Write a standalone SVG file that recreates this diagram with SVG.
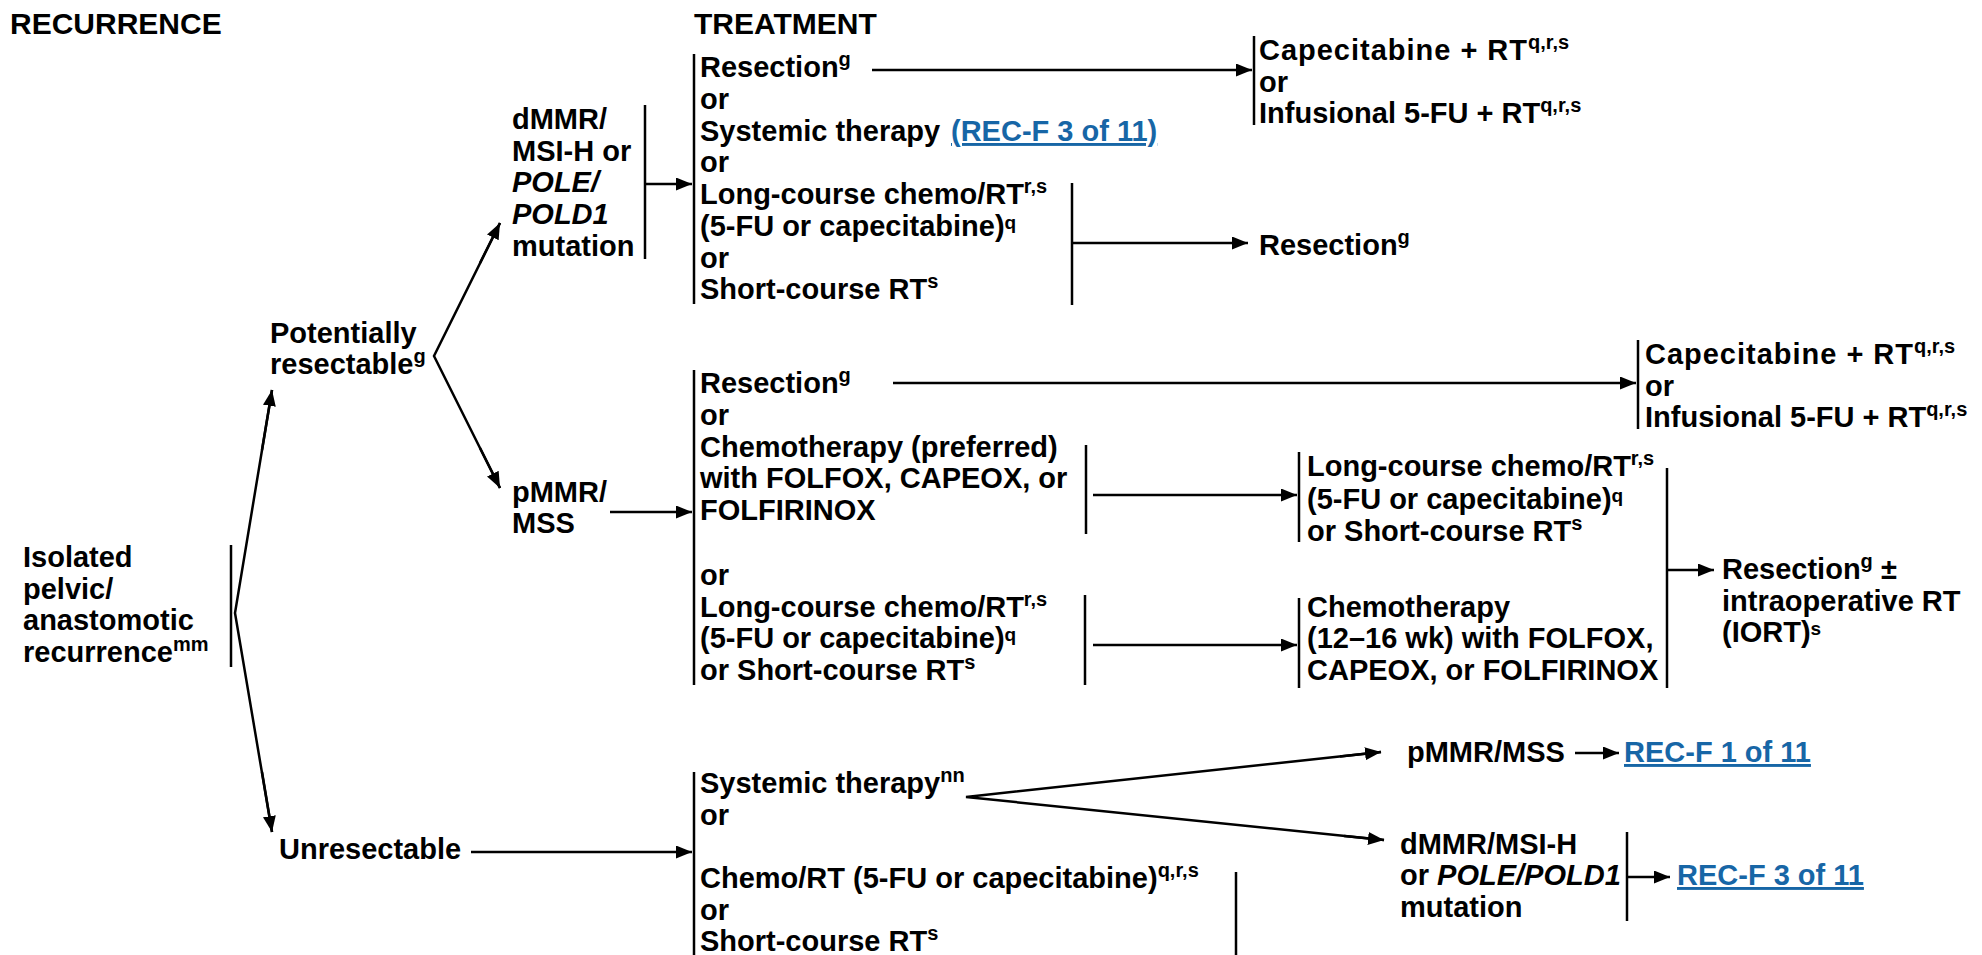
<svg xmlns="http://www.w3.org/2000/svg" width="1982" height="955" viewBox="0 0 1982 955">
<style>
text { font-family: "Liberation Sans", Arial, sans-serif; font-weight: bold; font-size: 29px; fill: #000; }
.hdr { font-size: 30px; }
.sup { font-size: 20px; }
.sup2 { font-size: 19px; }
.it { font-style: italic; }
.link { fill: #1766a6; text-decoration: underline; }
.br { stroke: #000; stroke-width: 2.5; fill: none; }
.cn { stroke: #000; stroke-width: 2.5; fill: none; marker-end: url(#ah); }
.ln { stroke: #000; stroke-width: 2.5; fill: none; }
</style>
<defs>
<marker id="ah" markerUnits="userSpaceOnUse" markerWidth="17" markerHeight="13" refX="16" refY="6.5" orient="auto">
<path d="M0,0 L16,6.5 L0,13 Z" fill="#000"/>
</marker>
</defs>
<rect width="1982" height="955" fill="#fff"/>

<g id="headers">
<text class="hdr" x="10" y="34">RECURRENCE</text>
<text class="hdr" x="694" y="34">TREATMENT</text>
</g>

<g id="n-isolated">
<text><tspan x="23" y="567">Isolated</tspan><tspan x="23" y="599">pelvic/</tspan><tspan x="23" y="630">anastomotic</tspan><tspan x="23" y="662">recurrence<tspan class="sup" dy="-11">mm</tspan></tspan></text>
<line class="br" x1="231" y1="545" x2="231" y2="667"/>
</g>

<g id="n-potentially">
<text><tspan x="270" y="343">Potentially</tspan><tspan x="270" y="374">resectable<tspan class="sup" dy="-11">g</tspan></tspan></text>
</g>

<g id="n-unresectable">
<text x="279" y="859">Unresectable</text>
</g>

<g id="n-dmmr">
<text><tspan x="512" y="129">dMMR/</tspan><tspan x="512" y="161">MSI-H or</tspan><tspan x="512" y="192" class="it">POLE/</tspan><tspan x="512" y="224" class="it">POLD1</tspan><tspan x="512" y="256">mutation</tspan></text>
<line class="br" x1="645" y1="105" x2="645" y2="259"/>
</g>

<g id="n-pmmr">
<text><tspan x="512" y="502">pMMR/</tspan><tspan x="512" y="533">MSS</tspan></text>
</g>

<g id="n-tx-dmmr">
<line class="br" x1="694" y1="54" x2="694" y2="304"/>
<text><tspan x="700" y="77">Resection<tspan class="sup" dy="-11">g</tspan></tspan><tspan x="700" y="109">or</tspan><tspan x="700" y="141">Systemic therapy</tspan><tspan x="700" y="172">or</tspan><tspan x="700" y="204">Long-course chemo/RT<tspan class="sup" dy="-11">r,s</tspan></tspan><tspan x="700" y="236">(5-FU or capecitabine)<tspan class="sup2" dy="-7.5">q</tspan></tspan><tspan x="700" y="268">or</tspan><tspan x="700" y="299">Short-course RT<tspan class="sup" dy="-11">s</tspan></tspan></text>
<text class="link" x="951" y="141">(REC-F 3 of 11)</text>
<line class="br" x1="1072" y1="183" x2="1072" y2="305"/>
</g>

<g id="n-cape1">
<line class="br" x1="1254" y1="36" x2="1254" y2="125"/>
<text><tspan x="1259" y="60" textLength="268" lengthAdjust="spacing">Capecitabine + RT</tspan><tspan class="sup" dy="-11">q,r,s</tspan><tspan x="1259" y="92">or</tspan><tspan x="1259" y="123">Infusional 5-FU + RT<tspan class="sup" dy="-11">q,r,s</tspan></tspan></text>
</g>

<g id="n-resection1">
<text x="1259" y="255">Resection<tspan class="sup" dy="-11">g</tspan></text>
</g>

<g id="n-tx-pmmr">
<line class="br" x1="694" y1="370" x2="694" y2="685"/>
<text><tspan x="700" y="393">Resection<tspan class="sup" dy="-11">g</tspan></tspan><tspan x="700" y="425">or</tspan><tspan x="700" y="457">Chemotherapy (preferred)</tspan><tspan x="700" y="488">with FOLFOX, CAPEOX, or</tspan><tspan x="700" y="520">FOLFIRINOX</tspan><tspan x="700" y="585">or</tspan><tspan x="700" y="617">Long-course chemo/RT<tspan class="sup" dy="-11">r,s</tspan></tspan><tspan x="700" y="648">(5-FU or capecitabine)<tspan class="sup2" dy="-7.5">q</tspan></tspan><tspan x="700" y="680">or Short-course RT<tspan class="sup" dy="-11">s</tspan></tspan></text>
<line class="br" x1="1086" y1="445" x2="1086" y2="534"/>
<line class="br" x1="1085" y1="595" x2="1085" y2="685"/>
</g>

<g id="n-cape2">
<line class="br" x1="1638" y1="340" x2="1638" y2="429"/>
<text><tspan x="1645" y="364" textLength="268" lengthAdjust="spacing">Capecitabine + RT</tspan><tspan class="sup" dy="-11">q,r,s</tspan><tspan x="1645" y="396">or</tspan><tspan x="1645" y="427">Infusional 5-FU + RT<tspan class="sup" dy="-11">q,r,s</tspan></tspan></text>
</g>

<g id="n-longcourse">
<line class="br" x1="1299" y1="452" x2="1299" y2="542"/>
<text><tspan x="1307" y="476">Long-course chemo/RT<tspan class="sup" dy="-11">r,s</tspan></tspan><tspan x="1307" y="509">(5-FU or capecitabine)<tspan class="sup2" dy="-7.5">q</tspan></tspan><tspan x="1307" y="541">or Short-course RT<tspan class="sup" dy="-11">s</tspan></tspan></text>
</g>

<g id="n-chemo1216">
<line class="br" x1="1299" y1="598" x2="1299" y2="688"/>
<text><tspan x="1307" y="617">Chemotherapy</tspan><tspan x="1307" y="648">(12–16 wk) with FOLFOX,</tspan><tspan x="1307" y="680">CAPEOX, or FOLFIRINOX</tspan></text>
<line class="br" x1="1667" y1="468" x2="1667" y2="688"/>
</g>

<g id="n-resection-iort">
<text><tspan x="1722" y="579">Resection<tspan class="sup" dy="-11">g</tspan><tspan dy="11"> ±</tspan></tspan><tspan x="1722" y="611">intraoperative RT</tspan><tspan x="1722" y="642">(IORT)<tspan class="sup2" dy="-7.5">s</tspan></tspan></text>
</g>

<g id="n-tx-unres">
<line class="br" x1="694" y1="772" x2="694" y2="955"/>
<text><tspan x="700" y="793">Systemic therapy<tspan class="sup" dy="-11">nn</tspan></tspan><tspan x="700" y="825">or</tspan><tspan x="700" y="888">Chemo/RT (5-FU or capecitabine)<tspan class="sup" dy="-11">q,r,s</tspan></tspan><tspan x="700" y="920">or</tspan><tspan x="700" y="951">Short-course RT<tspan class="sup" dy="-11">s</tspan></tspan></text>
<line class="br" x1="1236" y1="872" x2="1236" y2="955"/>
</g>

<g id="n-pmmr-mss2">
<text x="1407" y="762">pMMR/MSS</text>
<text class="link" x="1624" y="762">REC-F 1 of 11</text>
</g>

<g id="n-dmmr2">
<text><tspan x="1400" y="854">dMMR/MSI-H</tspan><tspan x="1400" y="885">or <tspan class="it">POLE/POLD1</tspan></tspan><tspan x="1400" y="917">mutation</tspan></text>
<line class="br" x1="1627" y1="832" x2="1627" y2="921"/>
<text class="link" x="1677" y="885">REC-F 3 of 11</text>
</g>

<g id="connectors">
<polyline class="ln" points="272,390 235,613 272,832"/>
<line class="cn" x1="262" y1="450" x2="272" y2="390"/>
<line class="cn" x1="262" y1="772" x2="272" y2="832"/>
<polyline class="ln" points="500,223 434,356 500,488"/>
<line class="cn" x1="480" y1="263" x2="500" y2="223"/>
<line class="cn" x1="480" y1="448" x2="500" y2="488"/>
<line class="cn" x1="646" y1="184" x2="692" y2="184"/>
<line class="cn" x1="872" y1="70" x2="1252" y2="70"/>
<line class="cn" x1="1073" y1="243" x2="1248" y2="243"/>
<line class="cn" x1="610" y1="512" x2="692" y2="512"/>
<line class="cn" x1="893" y1="383" x2="1636" y2="383"/>
<line class="cn" x1="1093" y1="495" x2="1297" y2="495"/>
<line class="cn" x1="1093" y1="645" x2="1297" y2="645"/>
<line class="cn" x1="1668" y1="570" x2="1714" y2="570"/>
<line class="cn" x1="471" y1="852" x2="692" y2="852"/>
<polyline class="ln" points="1381,752 966,797 1384,840"/>
<line class="cn" x1="1340" y1="756.5" x2="1381" y2="752"/>
<line class="cn" x1="1344" y1="836" x2="1384" y2="840"/>
<line class="cn" x1="1575" y1="753" x2="1619" y2="753"/>
<line class="cn" x1="1628" y1="877" x2="1670" y2="877"/>
</g>
</svg>
